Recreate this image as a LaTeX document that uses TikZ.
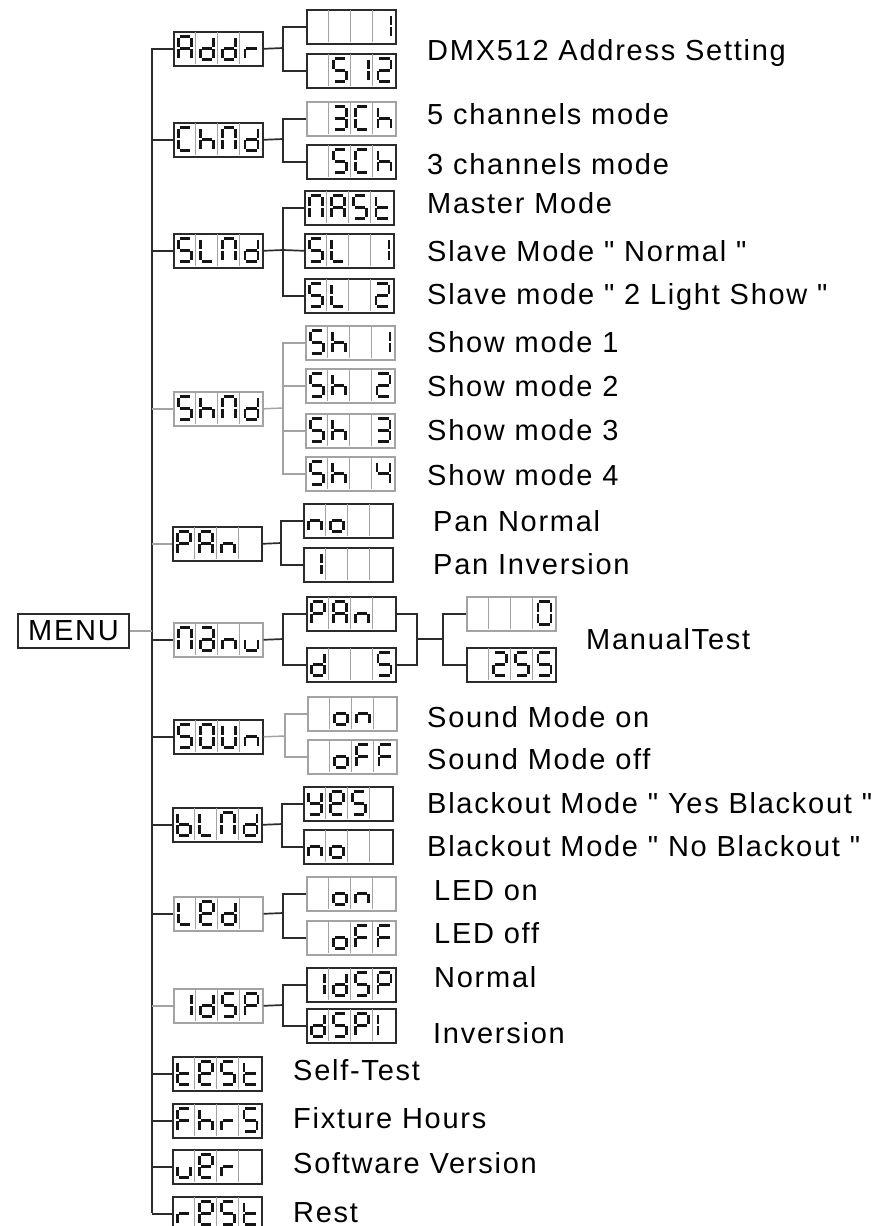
\documentclass[tikz,border=0pt]{standalone}
\usepackage{fontspec}
\setmainfont{Liberation Sans}
\newfontfamily\labfont[LetterSpace=6]{Liberation Sans}
\definecolor{dk}{HTML}{2B2B2B}
\definecolor{lt}{HTML}{A3A3A3}
\definecolor{segc}{HTML}{151515}
\tikzset{
  segline/.style={line width=2.9pt, draw=segc, line cap=butt},
  dkline/.style={draw=dk, line width=1.7pt},
  ltline/.style={draw=lt, line width=1.5pt},
  lab/.style={anchor=base west, inner sep=0pt, text depth=0pt, font={\labfont\fontsize{29}{34}\selectfont}},
}
% segments in cell-local coordinates (y downwards)
\def\sga{\draw[segline] (6.6,5.4) -- (16.8,5.4);}
\def\sgb{\draw[segline] (18.2,6.9) -- (18.2,15.8);}
\def\sgc{\draw[segline] (18.2,18.4) -- (18.2,27.3);}
\def\sgd{\draw[segline] (6.6,28.7) -- (16.8,28.7);}
\def\sge{\draw[segline] (5.2,18.4) -- (5.2,27.3);}
\def\sgf{\draw[segline] (5.2,6.9) -- (5.2,15.8);}
\def\sgg{\draw[segline] (6.6,17.1) -- (16.8,17.1);}
\def\segparse#1{\ifx#1\relax\else\csname sg#1\endcsname\expandafter\segparse\fi}
\newcommand\segcell[3]{\begin{scope}[shift={(#1,#2)}]\expandafter\segparse#3\relax\end{scope}}
% glyphs
\def\glA{abcefg}\def\gld{bcdeg}\def\glr{eg}\def\glC{adef}\def\glh{cefg}
\def\glN{abcef}\def\glS{acdfg}\def\glL{def}\def\glP{abefg}\def\gln{ceg}
\def\gla{abcdeg}\def\glu{cde}\def\glO{abcdef}\def\glU{bcdef}\def\glb{cdefg}
\def\gle{abdefg}\def\glt{defg}\def\glF{aefg}\def\glo{cdeg}\def\glY{bcdfg}
\def\glone{bc}\def\glIl{ef}\def\gltwo{abdeg}\def\glthree{abcdg}\def\glfour{bcfg}
\def\glnone{}
% display: name, x, y (top-left), outline colour, 4 cells
\newcommand\disp[8]{%
  \node[draw=#4, line width=1.6pt, minimum width=89pt, minimum height=34pt,
        inner sep=0pt, anchor=north west] (#1) at (#2,#3) {};
  \foreach \k in {1,2,3} {\draw[draw=lt, line width=1pt] (#2+22.25*\k,#3+0.8) -- ++(0,32.4);}
  \segcell{#2}{#3}{#5}%
  \segcell{#2+22.25}{#3}{#6}%
  \segcell{#2+44.5}{#3}{#7}%
  \segcell{#2+66.75}{#3}{#8}%
}
\begin{document}
\begin{tikzpicture}[x=1pt,y=-1pt]
\useasboundingbox (0,0) rectangle (894,1226);

% MENU and main spine
\node[draw=dk, line width=1.6pt, minimum width=111pt, minimum height=34pt, inner sep=0pt,
      font={\labfont\fontsize{29}{34}\selectfont}] (menu) at (73.5,631) {MENU};
\coordinate (vtop) at (152,48);
\coordinate (vbot) at (152,1213);
\draw[dkline] (vtop) -- (vbot);
\draw[ltline] (menu.east) -- (menu.east -| vtop);

% level 1
\disp{addr}{173}{31}{dk}{\glA}{\gld}{\gld}{\glr}
\disp{chnd}{173}{122}{dk}{\glC}{\glh}{\glN}{\gld}
\disp{slnd}{173}{233}{dk}{\glS}{\glL}{\glN}{\gld}
\disp{shnd}{173}{391}{lt}{\glS}{\glh}{\glN}{\gld}
\disp{pan}{172}{526}{dk}{\glP}{\glA}{\gln}{\glnone}
\disp{manu}{173}{622}{lt}{\glN}{\gla}{\gln}{\glu}
\disp{soun}{173}{719}{dk}{\glS}{\glO}{\glU}{\gln}
\disp{blnd}{172}{807}{dk}{\glb}{\glL}{\glN}{\gld}
\disp{led}{173}{896}{lt}{\glL}{\gle}{\gld}{\glnone}
\disp{idsp}{173}{988}{lt}{\glone}{\gld}{\glS}{\glP}
\disp{test}{172}{1056}{dk}{\glt}{\gle}{\glS}{\glt}
\disp{fhrs}{172}{1103}{dk}{\glF}{\glh}{\glr}{\glS}
\disp{ver}{172}{1149}{dk}{\glu}{\gle}{\glr}{\glnone}
\disp{rest}{172}{1196}{dk}{\glr}{\gle}{\glS}{\glt}

\draw[dkline] (addr.west -| vtop) -- (addr.west);
\draw[dkline] (chnd.west -| vtop) -- (chnd.west);
\draw[dkline] (slnd.west -| vtop) -- (slnd.west);
\draw[ltline] (shnd.west -| vtop) -- (shnd.west);
\draw[ltline] (pan.west -| vtop) -- (pan.west);
\draw[dkline] (manu.west -| vtop) -- (manu.west);
\draw[dkline] (soun.west -| vtop) -- (soun.west);
\draw[dkline] (blnd.west -| vtop) -- (blnd.west);
\draw[dkline] (led.west -| vtop) -- (led.west);
\draw[ltline] (idsp.west -| vtop) -- (idsp.west);
\draw[dkline] (test.west -| vtop) -- (test.west);
\draw[dkline] (fhrs.west -| vtop) -- (fhrs.west);
\draw[dkline] (ver.west -| vtop) -- (ver.west);
\draw[dkline] (rest.west -| vtop) -- (rest.west);

% level 2
\disp{addrA}{306}{9}{dk}{\glnone}{\glnone}{\glnone}{\glone}
\disp{addrB}{306}{53}{dk}{\glnone}{\glS}{\glone}{\gltwo}
\disp{chndA}{306}{101}{lt}{\glnone}{\glthree}{\glC}{\glh}
\disp{chndB}{306}{144}{dk}{\glnone}{\glS}{\glC}{\glh}
\disp{slndA}{304}{190}{dk}{\glN}{\glA}{\glS}{\glt}
\disp{slndB}{304}{233}{dk}{\glS}{\glL}{\glnone}{\glone}
\disp{slndC}{304}{278}{dk}{\glS}{\glL}{\glnone}{\gltwo}
\disp{shndA}{305}{325}{lt}{\glS}{\glh}{\glnone}{\glone}
\disp{shndB}{305}{368}{lt}{\glS}{\glh}{\glnone}{\gltwo}
\disp{shndC}{305}{413}{lt}{\glS}{\glh}{\glnone}{\glthree}
\disp{shndD}{305}{456}{lt}{\glS}{\glh}{\glnone}{\glfour}
\disp{panA}{303}{503}{dk}{\gln}{\glo}{\glnone}{\glnone}
\disp{panB}{303}{547}{dk}{\glone}{\glnone}{\glnone}{\glnone}
\disp{manuA}{306}{596}{dk}{\glP}{\glA}{\gln}{\glnone}
\disp{manuB}{306}{647}{dk}{\gld}{\glnone}{\glnone}{\glS}
\disp{mvA}{466}{596}{lt}{\glnone}{\glnone}{\glnone}{\glO}
\disp{mvB}{466}{647}{dk}{\glnone}{\gltwo}{\glS}{\glS}
\disp{sounA}{307}{696}{lt}{\glnone}{\glo}{\gln}{\glnone}
\disp{sounB}{307}{739}{lt}{\glnone}{\glo}{\glF}{\glF}
\disp{blndA}{303}{786}{dk}{\glY}{\gle}{\glS}{\glnone}
\disp{blndB}{303}{829}{dk}{\gln}{\glo}{\glnone}{\glnone}
\disp{ledA}{306}{876}{lt}{\glnone}{\glo}{\gln}{\glnone}
\disp{ledB}{306}{920}{lt}{\glnone}{\glo}{\glF}{\glF}
\disp{idspA}{306}{967}{dk}{\glone}{\gld}{\glS}{\glP}
\disp{idspB}{306}{1008}{dk}{\gld}{\glS}{\glP}{\glIl}

% group connectors
\coordinate (jaddr) at (283,48);
\draw[dkline] (addr.east) -- (jaddr);
\draw[dkline] (addrA.west) -| (jaddr) |- (addrB.west);
\coordinate (jchnd) at (283,139);
\draw[dkline] (chnd.east) -- (jchnd);
\draw[dkline] (chndA.west) -| (jchnd) |- (chndB.west);
\coordinate (jslnd) at (283,250);
\draw[dkline] (slnd.east) -- (jslnd);
\draw[dkline] (slndA.west) -| (jslnd) |- (slndC.west);
\draw[dkline] (jslnd) -- (slndB.west);
\coordinate (jshnd) at (283,408);
\draw[ltline] (shnd.east) -- (jshnd);
\draw[ltline] (shndA.west) -| (jshnd) |- (shndD.west);
\draw[ltline] (shndB.west) -| (jshnd);
\draw[ltline] (shndC.west) -| (jshnd);
\coordinate (jpan) at (281,543);
\draw[dkline] (pan.east) -- (jpan);
\draw[dkline] (panA.west) -| (jpan) |- (panB.west);
\coordinate (jmanu) at (283,639);
\draw[dkline] (manu.east) -- (jmanu);
\draw[dkline] (manuA.west) -| (jmanu) |- (manuB.west);
\coordinate (jm2) at (417,639);
\coordinate (jm3) at (443,639);
\draw[dkline] (manuA.east) -| (jm2) |- (manuB.east);
\draw[dkline] (jm2) -- (jm3);
\draw[dkline] (mvA.west) -| (jm3) |- (mvB.west);
\coordinate (jsoun) at (285,736);
\draw[ltline] (soun.east) -- (jsoun);
\draw[ltline] (sounA.west) -| (jsoun) |- (sounB.west);
\coordinate (jblnd) at (282,824);
\draw[dkline] (blnd.east) -- (jblnd);
\draw[dkline] (blndA.west) -| (jblnd) |- (blndB.west);
\coordinate (jled) at (283,913);
\draw[dkline] (led.east) -- (jled);
\draw[dkline] (ledA.west) -| (jled) |- (ledB.west);
\coordinate (jidsp) at (283,1005);
\draw[dkline] (idsp.east) -- (jidsp);
\draw[dkline] (idspA.west) -| (jidsp) |- (idspB.west);

% labels
\node[lab] (t1) at (427,60) {DMX512 Address Setting};
\node[lab] (t2) at (427,124) {5 channels mode};
\node[lab] (t3) at (427,174) {3 channels mode};
\node[lab] (t4) at (427,213) {Master Mode};
\node[lab] (t5) at (427,261) {Slave Mode " Normal "};
\node[lab] (t6) at (427,304) {Slave mode " 2 Light Show "};
\node[lab] (t7) at (427,352) {Show mode 1};
\node[lab] (t8) at (427,396) {Show mode 2};
\node[lab] (t9) at (427,440) {Show mode 3};
\node[lab] (t10) at (427,485) {Show mode 4};
\node[lab] (t11) at (433,531) {Pan Normal};
\node[lab] (t12) at (433,574) {Pan Inversion};
\node[lab] (t13) at (586,649) {ManualTest};
\node[lab] (t14) at (427,727) {Sound Mode on};
\node[lab] (t15) at (427,769) {Sound Mode off};
\node[lab] (t16) at (427,813) {Blackout Mode " Yes Blackout "};
\node[lab] (t17) at (427,856) {Blackout Mode " No Blackout "};
\node[lab] (t18) at (434,900) {LED on};
\node[lab] (t19) at (434,943) {LED off};
\node[lab] (t20) at (434,987) {Normal};
\node[lab] (t21) at (433,1043) {Inversion};
\node[lab] (t22) at (293,1080) {Self-Test};
\node[lab] (t23) at (293,1128) {Fixture Hours};
\node[lab] (t24) at (293,1173) {Software Version};
\node[lab] (t25) at (293,1222) {Rest};
\end{tikzpicture}
\end{document}
